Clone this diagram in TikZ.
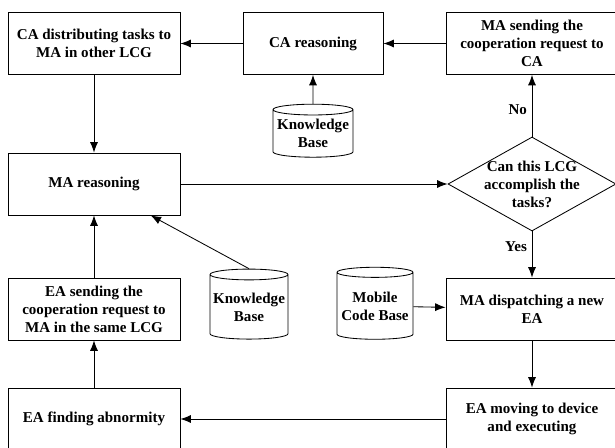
\documentclass[tikz,border=0pt]{standalone}
\usepackage{fontspec}
\setmainfont{Liberation Serif}
\usetikzlibrary{arrows.meta,shapes.geometric}

\begin{document}
\begin{tikzpicture}
    [line width=0.6pt,>={Latex[length=2.6mm,width=2mm]},
     font=\fontsize{10.7}{12.8}\selectfont\bfseries,
     block/.style={rectangle,draw,align=center,minimum width=4.3cm,minimum height=1.55cm,inner sep=0pt},
     store/.style={cylinder,shape border rotate=90,aspect=0.15,draw,align=center,inner sep=0pt},
     decision/.style={diamond,draw,align=center,aspect=1.8,minimum width=4.2cm,minimum height=2.35cm,inner sep=-2pt}]

    \useasboundingbox (0,0) rectangle (15.375,-11.2);

    % top row:
    \node (cadist) at (2.35,-1.0875) [block] {CA distributing tasks to\\MA in other LCG};
    \node (careason) at (7.825,-1.0875) [block,minimum width=3.5cm] {CA reasoning};
    \node (masend) at (13.3,-1.0875) [block] {MA sending the\\cooperation request to\\CA};

    % knowledge base of the CA:
    \node (kbca) at (7.825,-3.34) [store,minimum width=2cm,minimum height=1.325cm] {Knowledge\\Base};

    % middle row:
    \node (mareason) at (2.35,-4.6) [block] {MA reasoning};
    \node (decide) at (13.3,-4.6) [decision] {Can this LCG\\accomplish the\\tasks?};

    % stores beside the lower boxes:
    \node (kbma) at (6.225,-7.675) [store,minimum width=1.95cm,minimum height=1.75cm] {Knowledge\\Base};
    \node (codebase) at (9.375,-7.65) [store,minimum width=1.9cm,minimum height=1.8cm] {Mobile\\Code Base};

    % lower rows:
    \node (easend) at (2.35,-7.725) [block] {EA sending the\\cooperation request to\\MA in the same LCG};
    \node (madisp) at (13.3,-7.725) [block] {MA dispatching a new\\EA};
    \node (eafind) at (2.35,-10.475) [block] {EA finding abnormity};
    \node (eamove) at (13.3,-10.475) [block] {EA moving to device\\and executing};

    % connect nodes:
    \draw [->] (careason) to (cadist);
    \draw [->] (masend) to (careason);
    \draw [->] (kbca) to (careason);
    \draw [->] (cadist) to (mareason);
    \draw [->] (mareason) to (decide);
    \draw [->] (decide) to node [left,pos=0.44] {No} (masend);
    \draw [->] (decide) to node [left,pos=0.33] {Yes} (madisp);
    \draw [->] (kbma.north) to (mareason.-29);
    \draw [->] (codebase) to (madisp);
    \draw [->] (madisp) to (eamove);
    \draw [->] (eamove) to (eafind);
    \draw [->] (eafind) to (easend);
    \draw [->] (easend) to (mareason);

  \end{tikzpicture}
\end{document}
